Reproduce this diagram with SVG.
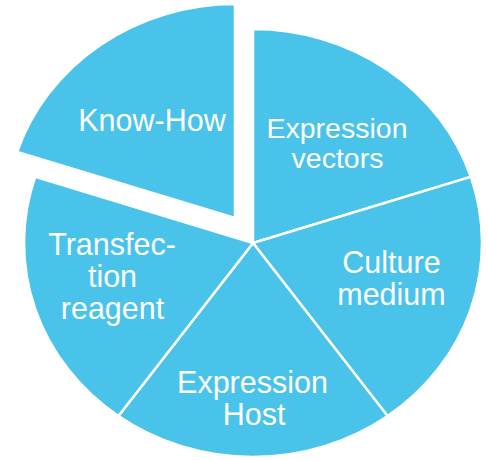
<svg xmlns="http://www.w3.org/2000/svg" width="488" height="460" viewBox="0 0 488 460">
<style>
.slice{fill:#49C3E9;stroke:#ffffff;stroke-width:2.5;stroke-linejoin:miter}
.lbl{font-family:"Liberation Sans",Arial,sans-serif;font-size:30.5px;fill:#ffffff;text-anchor:middle}
.sm{font-size:28.5px}
</style>
<rect width="488" height="460" fill="#ffffff"/>
<g id="connectors"></g>
<g id="know-how">
<path class="slice" d="M235,218 L17.2,151.9 A229,214 0 0 1 235,4 Z"/>
<text class="lbl" x="152" y="131">Know-How</text>
</g>
<g id="expression-vectors">
<path class="slice" d="M253,243 L253,29 A229,214 0 0 1 470.8,176.9 Z"/>
<text class="lbl sm" x="337" y="138">Expression</text>
<text class="lbl sm" x="337.5" y="168">vectors</text>
</g>
<g id="culture-medium">
<path class="slice" d="M253,243 L470.8,176.9 A229,214 0 0 1 387.6,416.1 Z"/>
<text class="lbl" x="391.5" y="273">Culture</text>
<text class="lbl" x="391.5" y="304.5">medium</text>
</g>
<g id="expression-host">
<path class="slice" d="M253,243 L387.6,416.1 A229,214 0 0 1 118.4,416.1 Z"/>
<text class="lbl" x="252.5" y="393">Expression</text>
<text class="lbl" x="254" y="425">Host</text>
</g>
<g id="transfection-reagent">
<path class="slice" d="M253,243 L118.4,416.1 A229,214 0 0 1 35.2,176.9 Z"/>
<text class="lbl" x="112" y="255">Transfec-</text>
<text class="lbl" x="112.5" y="287">tion</text>
<text class="lbl" x="112.5" y="318.5">reagent</text>
</g>
</svg>
